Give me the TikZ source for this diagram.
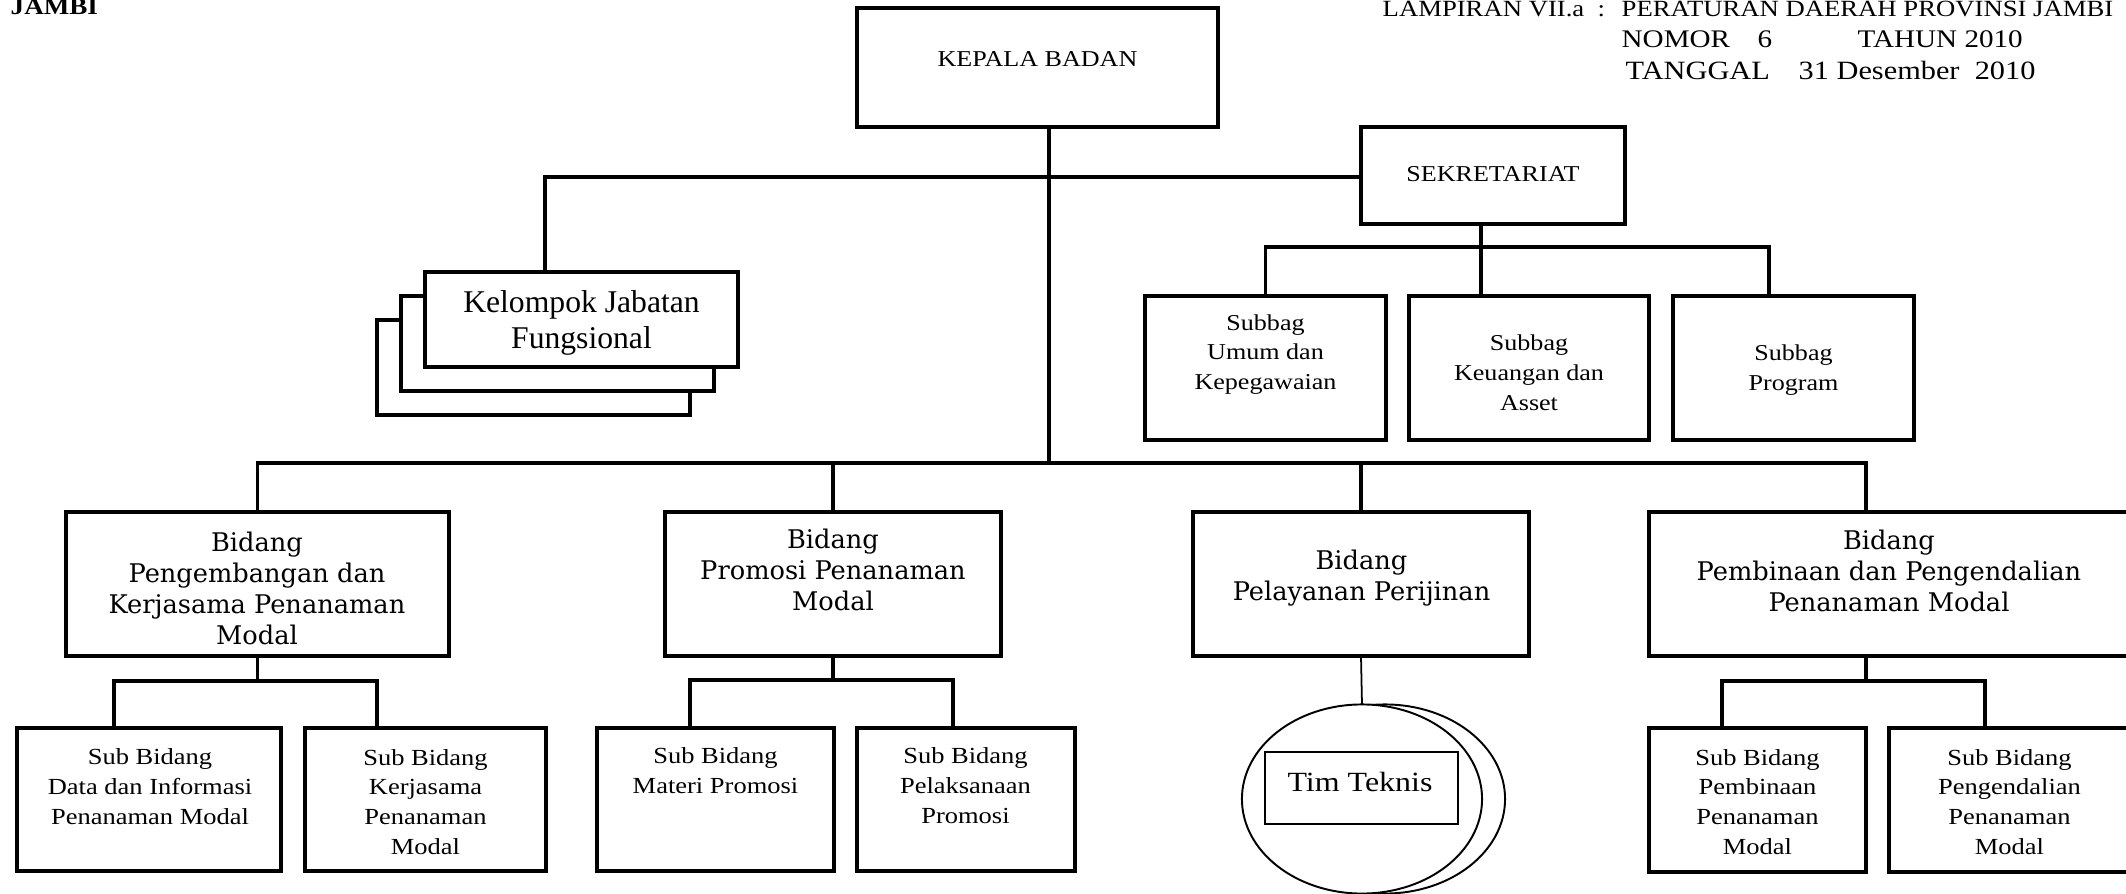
\documentclass[tikz,border=0pt]{standalone}
\usepackage{fontspec}
\setmainfont{Liberation Serif}[FakeStretch=1.15]
\newfontfamily\plainfont{Liberation Serif}
\newfontfamily\bidfont{DejaVu Serif}
\usetikzlibrary{shapes.geometric}
\def\fs#1#2{\fontsize{#1}{#2}\selectfont}

\begin{document}
\begin{tikzpicture}[x=0.01cm, y=-0.01cm,
  box/.style={draw, line width=1.15pt, fill=white, inner sep=0pt, outer sep=0pt},
  thinbox/.style={draw, line width=0.55pt, fill=white, inner sep=0pt, outer sep=0pt},
  sz/.style 2 args={minimum width=#1cm, minimum height=#2cm},
  link/.style={line width=0.95pt},
  txt/.style={align=center, inner sep=0pt, font=\fs{6.45}{8.5}},
  sub/.style={align=center, inner sep=0pt, font=\fs{6.55}{8.5}},
  bidtxt/.style={align=center, inner sep=0pt, font=\bidfont\fs{7.3}{8.8}},
  head/.style={anchor=base west, inner sep=0pt}]
\useasboundingbox (0,0) rectangle (2126,894);

% kop
\node[head, font=\bfseries\fs{6.7}{8}] (jambi) at (10,15) {JAMBI};
\node[head, font=\fs{6.6}{8}] (lamp) at (1382,17) {LAMPIRAN VII.a};
\node[head, font=\fs{6.6}{8}] (colon) at (1597,17) {:};
\node[head, font=\fs{6.6}{8}] (perda) at (1621,17) {PERATURAN DAERAH PROVINSI JAMBI};
\node[head, font=\fs{7.2}{8}] (nomor) at (1621,48) {NOMOR};
\node[head, font=\fs{7.2}{8}] (nomorval) at (1757,48) {6};
\node[head, font=\fs{7.2}{8}] (tahun) at (1857,48) {TAHUN 2010};
\node[head, font=\fs{7.5}{8}] (tgl) at (1625,80) {TANGGAL};
\node[head, font=\fs{7.5}{8}] (tglval) at (1798,80) {31 Desember\ \ 2010};

% pimpinan dan sekretariat
\node[box, sz={3.61}{1.19}] (kepala) at (1037.5,67.5) {};
\node[txt] (kepala-t) at (1037.5,59) {KEPALA BADAN};
\node[box, sz={2.64}{0.97}] (sek) at (1493,175.5) {};
\node[txt] (sek-t) at (1493,174) {SEKRETARIAT};

\node[box, sz={3.13}{0.95}] (kel3) at (533.5,367.5) {};
\node[box, sz={3.13}{0.95}] (kel2) at (557.5,343.5) {};
\node[box, sz={3.13}{0.95}] (kel) at (581.5,319.5) {};
\node[txt, font=\plainfont\fs{9}{10}] (kel-t) at (581.5,323) {Kelompok Jabatan\\Fungsional};

\node[box, sz={2.41}{1.44}] (umum) at (1265.5,368) {};
\node[txt] (umum-t) at (1265.5,354.5) {Subbag\\Umum dan\\Kepegawaian};
\node[box, sz={2.40}{1.44}] (keu) at (1529,368) {};
\node[txt] (keu-t) at (1529,372.5) {Subbag\\Keuangan dan\\Asset};
\node[box, sz={2.41}{1.44}] (prog) at (1793.5,368) {};
\node[txt] (prog-t) at (1793.5,370) {Subbag\\Program};

% bidang
\node[box, sz={3.83}{1.44}] (bid1) at (257.5,584) {};
\node[bidtxt] (bid1-t) at (257,588.5) {Bidang\\Pengembangan dan\\Kerjasama Penanaman\\Modal};
\node[box, sz={3.36}{1.44}] (bid2) at (833,584) {};
\node[bidtxt] (bid2-t) at (833,570) {Bidang\\Promosi Penanaman\\Modal};
\node[box, sz={3.36}{1.44}] (bid3) at (1361,584) {};
\node[bidtxt] (bid3-t) at (1361.5,578) {Bidang\\Pelayanan Perijinan};
\node[box, sz={4.80}{1.44}] (bid4) at (1889,584) {};
\node[bidtxt] (bid4-t) at (1889,571) {Bidang\\Pembinaan dan Pengendalian\\Penanaman Modal};

% sub bidang
\node[box, sz={2.64}{1.43}] (sdata) at (149,799.5) {};
\node[sub] (sdata-t) at (150,787) {Sub Bidang\\Data dan Informasi\\Penanaman Modal};
\node[box, sz={2.41}{1.43}] (skerja) at (425.5,799.5) {};
\node[sub] (skerja-t) at (425.5,802) {Sub Bidang\\Kerjasama\\Penanaman\\Modal};
\node[box, sz={2.37}{1.43}] (smateri) at (715.5,799.5) {};
\node[sub] (smateri-t) at (715.5,771) {Sub Bidang\\Materi Promosi};
\node[box, sz={2.18}{1.43}] (spelaks) at (966,799.5) {};
\node[sub] (spelaks-t) at (965.5,786) {Sub Bidang\\Pelaksanaan\\Promosi};
\node[box, sz={2.17}{1.43}] (sbina) at (1757.5,800) {};
\node[sub] (sbina-t) at (1757.5,802) {Sub Bidang\\Pembinaan\\Penanaman\\Modal};
\node[box, sz={2.41}{1.43}] (skendali) at (2009.5,800) {};
\node[sub] (skendali-t) at (2009.5,802) {Sub Bidang\\Pengendalian\\Penanaman\\Modal};

% tim teknis
\node[ellipse, thinbox, sz={2.40}{1.89}] (timback) at (1385,799) {};
\node[ellipse, thinbox, sz={2.40}{1.89}] (tim) at (1362,799) {};
\node[thinbox, sz={1.93}{0.72}] (timbox) at (1361.5,788) {};
\node[inner sep=0pt, font=\fs{7.9}{9}] (tim-t) at (1360,782) {Tim Teknis};

% garis
\coordinate (kjf) at (545,177);
\coordinate (spine) at (1049,463);
\coordinate (sekdrop) at (1481,247);
\coordinate (progdrop) at (1769,247);
\coordinate (bid4drop) at (1866,463);
\coordinate (b1l) at (114,681);  \coordinate (b1r) at (377,681);
\coordinate (b2l) at (690,680);  \coordinate (b2r) at (953,680);
\coordinate (b4l) at (1722,681); \coordinate (b4r) at (1985,681);

\draw[link] (spine |- kepala.south) -- (spine);
\draw[link] (kjf |- kel.north) -- (kjf) -- (kjf -| sek.west);
\draw[link] (sekdrop |- sek.south) -- (sekdrop |- keu.north);
\draw[link] (umum.north) |- (progdrop) -- (progdrop |- prog.north);
\draw[link] (bid1.north) |- (bid4drop) -- (bid4drop |- bid4.north);
\draw[link] (bid2.north) -- (bid2.north |- spine);
\draw[link] (bid3.north) -- (bid3.north |- spine);
\draw[link] (bid1.south) -- (bid1.south |- b1l);
\draw[link] (b1l |- sdata.north) -- (b1l) -- (b1r) -- (b1r |- skerja.north);
\draw[link] (bid2.south) -- (bid2.south |- b2l);
\draw[link] (b2l |- smateri.north) -- (b2l) -- (b2r) -- (b2r |- spelaks.north);
\draw[link] (bid4drop |- bid4.south) -- (bid4drop |- b4l);
\draw[link] (b4l |- sbina.north) -- (b4l) -- (b4r) -- (b4r |- skendali.north);
\draw[line width=0.5pt] (bid3.south) -- (tim.north);
\end{tikzpicture}
\end{document}
